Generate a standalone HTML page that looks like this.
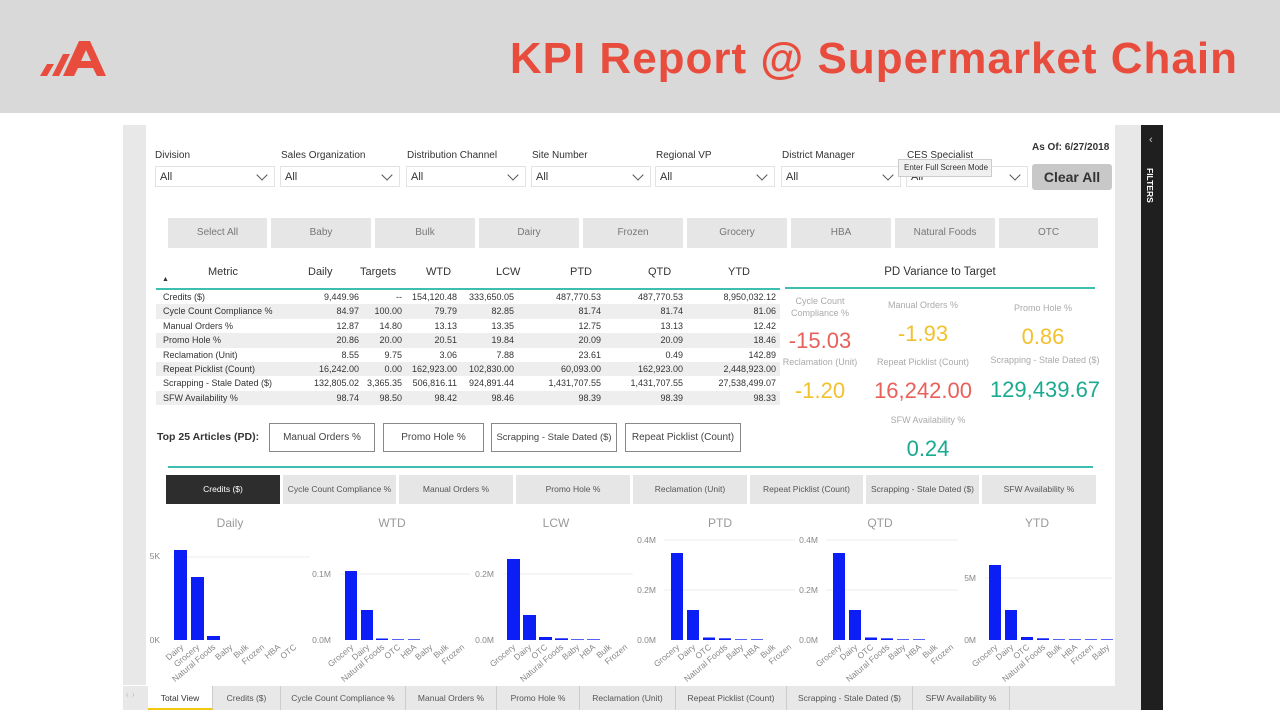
<!DOCTYPE html>
<html><head><meta charset="utf-8"><style>
*{margin:0;padding:0;box-sizing:border-box}
body{width:1280px;height:720px;overflow:hidden;background:#fff;font-family:"Liberation Sans",sans-serif;position:relative;color:#333}
.a{position:absolute}
.hdr{left:0;top:0;width:1280px;height:113px;background:#d9d9d9}
.title{right:42px;top:34px;font-size:44px;font-weight:bold;color:#e84c3d;letter-spacing:1px;white-space:nowrap}
.lbl{font-size:10px;color:#333}
.dd{height:21px;border:1px solid #e3e3e3;font-size:11px;padding:4px 0 0 4px;background:#fff}
.dd:after{content:"";position:absolute;right:8px;top:4px;width:7px;height:7px;border-right:1px solid #555;border-bottom:1px solid #555;transform:rotate(45deg)}
.cb{top:218px;height:30px;background:#e6e6e6;font-size:10px;color:#777;text-align:center;line-height:30px}
.mt{top:475px;height:29px;background:#e6e6e6;font-size:8.5px;color:#555;text-align:center;line-height:29px;white-space:nowrap}
.kl{font-size:9px;color:#aaa;text-align:center}
.kv{font-size:22px;text-align:center}
.btn{top:423px;height:29px;border:1px solid #888;font-size:10px;color:#444;text-align:center;line-height:27px;white-space:nowrap;overflow:hidden}
.tab{top:686px;height:24px;font-size:8.5px;color:#555;text-align:center;line-height:24px;border-right:1px solid #ccc}
.r{position:relative;height:14.4px;line-height:14.4px}.r span{position:absolute;text-align:right}.r.g{background:#eeeeee}.r span.m{left:7px;text-align:left}
</style></head><body>
<div class="a hdr"></div>
<svg class="a" style="left:38px;top:40px" width="70" height="38"><polygon points="2,36 9,24 16,24 9,36" fill="#e84c3d"/><polygon points="14,36 25,14 32,14 21,36" fill="#e84c3d"/><polygon points="25,36 41,1 52,1 68,36 59,36 55,28 40,28 36,36" fill="#e84c3d"/><polygon points="43,21 53,21 48,10" fill="#d9d9d9"/></svg>
<div class="a title">KPI Report @ Supermarket Chain</div>

<div class="a" style="left:123px;top:125px;width:23px;height:560px;background:#e8e8e8"></div>
<div class="a" style="left:1115px;top:125px;width:26px;height:585px;background:#e8e8e8"></div>
<div class="a" style="left:1141px;top:125px;width:22px;height:585px;background:#1f1f1f"></div>
<div class="a" style="left:1149px;top:134px;color:#ccc;font-size:11px">‹</div>
<div class="a" style="left:1145px;top:168px;color:#fff;font-size:8.5px;font-weight:bold;writing-mode:vertical-rl">FILTERS</div>

<div class="a lbl" style="left:155px;top:150px">Division</div>
<div class="a lbl" style="left:281px;top:150px">Sales Organization</div>
<div class="a lbl" style="left:407px;top:150px">Distribution Channel</div>
<div class="a lbl" style="left:532px;top:150px">Site Number</div>
<div class="a lbl" style="left:656px;top:150px">Regional VP</div>
<div class="a lbl" style="left:782px;top:150px">District Manager</div>
<div class="a lbl" style="left:907px;top:150px">CES Specialist</div>
<div class="a dd" style="left:155px;top:166px;width:120px">All</div>
<div class="a dd" style="left:280px;top:166px;width:120px">All</div>
<div class="a dd" style="left:406px;top:166px;width:120px">All</div>
<div class="a dd" style="left:531px;top:166px;width:120px">All</div>
<div class="a dd" style="left:655px;top:166px;width:120px">All</div>
<div class="a dd" style="left:781px;top:166px;width:120px">All</div>
<div class="a dd" style="left:906px;top:166px;width:122px">All</div>
<div class="a" style="left:898px;top:159px;width:94px;height:18px;background:#f0f0f0;border:1px solid #ccc;font-size:8px;padding:3px 0 0 5px">Enter Full Screen Mode</div>
<div class="a" style="left:1032px;top:142px;font-size:10px;font-weight:bold">As Of: 6/27/2018</div>
<div class="a" style="left:1032px;top:164px;width:80px;height:26px;background:#c8c8c8;border-radius:3px;font-size:14px;font-weight:bold;text-align:center;line-height:26px">Clear All</div>

<div class="a cb" style="left:168px;width:99px">Select All</div>
<div class="a cb" style="left:271px;width:100px">Baby</div>
<div class="a cb" style="left:375px;width:100px">Bulk</div>
<div class="a cb" style="left:479px;width:100px">Dairy</div>
<div class="a cb" style="left:583px;width:100px">Frozen</div>
<div class="a cb" style="left:687px;width:100px">Grocery</div>
<div class="a cb" style="left:791px;width:100px">HBA</div>
<div class="a cb" style="left:895px;width:100px">Natural Foods</div>
<div class="a cb" style="left:999px;width:99px">OTC</div>

<div class="a" style="left:156px;top:264px;width:624px;font-size:11px">
<div class="a" style="left:52px;top:2px">Metric</div><div class="a" style="left:6px;top:12px;font-size:7px">▲</div>
<div class="a" style="left:152px;top:2px">Daily</div>
<div class="a" style="left:204px;top:2px">Targets</div>
<div class="a" style="left:270px;top:2px">WTD</div>
<div class="a" style="left:340px;top:2px">LCW</div>
<div class="a" style="left:414px;top:2px">PTD</div>
<div class="a" style="left:492px;top:2px">QTD</div>
<div class="a" style="left:572px;top:2px">YTD</div>
</div>
<div class="a" style="left:156px;top:288px;width:624px;height:2px;background:#3cbfae"></div>
<div class="a" style="left:156px;top:290px;width:624px;font-size:9px;color:#333">
<div class="r"><span class="m">Credits ($)</span><span style="right:421px">9,449.96</span><span style="right:378px">--</span><span style="right:323px">154,120.48</span><span style="right:266px">333,650.05</span><span style="right:179px">487,770.53</span><span style="right:97px">487,770.53</span><span style="right:4px">8,950,032.12</span></div>
<div class="r g"><span class="m">Cycle Count Compliance %</span><span style="right:421px">84.97</span><span style="right:378px">100.00</span><span style="right:323px">79.79</span><span style="right:266px">82.85</span><span style="right:179px">81.74</span><span style="right:97px">81.74</span><span style="right:4px">81.06</span></div>
<div class="r"><span class="m">Manual Orders %</span><span style="right:421px">12.87</span><span style="right:378px">14.80</span><span style="right:323px">13.13</span><span style="right:266px">13.35</span><span style="right:179px">12.75</span><span style="right:97px">13.13</span><span style="right:4px">12.42</span></div>
<div class="r g"><span class="m">Promo Hole %</span><span style="right:421px">20.86</span><span style="right:378px">20.00</span><span style="right:323px">20.51</span><span style="right:266px">19.84</span><span style="right:179px">20.09</span><span style="right:97px">20.09</span><span style="right:4px">18.46</span></div>
<div class="r"><span class="m">Reclamation (Unit)</span><span style="right:421px">8.55</span><span style="right:378px">9.75</span><span style="right:323px">3.06</span><span style="right:266px">7.88</span><span style="right:179px">23.61</span><span style="right:97px">0.49</span><span style="right:4px">142.89</span></div>
<div class="r g"><span class="m">Repeat Picklist (Count)</span><span style="right:421px">16,242.00</span><span style="right:378px">0.00</span><span style="right:323px">162,923.00</span><span style="right:266px">102,830.00</span><span style="right:179px">60,093.00</span><span style="right:97px">162,923.00</span><span style="right:4px">2,448,923.00</span></div>
<div class="r"><span class="m">Scrapping - Stale Dated ($)</span><span style="right:421px">132,805.02</span><span style="right:378px">3,365.35</span><span style="right:323px">506,816.11</span><span style="right:266px">924,891.44</span><span style="right:179px">1,431,707.55</span><span style="right:97px">1,431,707.55</span><span style="right:4px">27,538,499.07</span></div>
<div class="r g"><span class="m">SFW Availability %</span><span style="right:421px">98.74</span><span style="right:378px">98.50</span><span style="right:323px">98.42</span><span style="right:266px">98.46</span><span style="right:179px">98.39</span><span style="right:97px">98.39</span><span style="right:4px">98.33</span></div>
</div>

<div class="a" style="left:785px;top:266px;width:310px;text-align:center;font-size:11.5px">PD Variance to Target</div>
<div class="a" style="left:785px;top:287px;width:310px;height:2px;background:#3cbfae"></div>
<div class="a kl" style="left:775px;top:295px;width:90px;line-height:12px">Cycle Count<br>Compliance %</div>
<div class="a kv" style="left:775px;top:328px;width:90px;color:#e8605a">-15.03</div>
<div class="a kl" style="left:878px;top:300px;width:90px">Manual Orders %</div>
<div class="a kv" style="left:878px;top:321px;width:90px;color:#f2c12e">-1.93</div>
<div class="a kl" style="left:998px;top:303px;width:90px">Promo Hole %</div>
<div class="a kv" style="left:998px;top:324px;width:90px;color:#f2c12e">0.86</div>
<div class="a kl" style="left:775px;top:357px;width:90px">Reclamation (Unit)</div>
<div class="a kv" style="left:775px;top:378px;width:90px;color:#f2c12e">-1.20</div>
<div class="a kl" style="left:868px;top:357px;width:110px">Repeat Picklist (Count)</div>
<div class="a kv" style="left:858px;top:378px;width:130px;color:#e8605a">16,242.00</div>
<div class="a kl" style="left:980px;top:355px;width:130px">Scrapping - Stale Dated ($)</div>
<div class="a kv" style="left:975px;top:377px;width:140px;color:#1aaa8f">129,439.67</div>
<div class="a kl" style="left:868px;top:415px;width:120px">SFW Availability %</div>
<div class="a kv" style="left:868px;top:436px;width:120px;color:#1aaa8f">0.24</div>

<div class="a" style="left:157px;top:431px;font-size:10.5px;font-weight:bold">Top 25 Articles (PD):</div>
<div class="a btn" style="left:269px;width:106px">Manual Orders %</div>
<div class="a btn" style="left:383px;width:101px">Promo Hole %</div>
<div class="a btn" style="left:491px;width:126px;font-size:9.5px">Scrapping - Stale Dated ($)</div>
<div class="a btn" style="left:625px;width:116px">Repeat Picklist (Count)</div>
<div class="a" style="left:168px;top:466px;width:925px;height:2px;background:#3cbfae"></div>

<div class="a mt" style="left:166px;width:114px;background:#2d2d2d;color:#fff">Credits ($)</div>
<div class="a mt" style="left:283px;width:113px">Cycle Count Compliance %</div>
<div class="a mt" style="left:399px;width:114px">Manual Orders %</div>
<div class="a mt" style="left:516px;width:114px">Promo Hole %</div>
<div class="a mt" style="left:633px;width:114px">Reclamation (Unit)</div>
<div class="a mt" style="left:750px;width:113px">Repeat Picklist (Count)</div>
<div class="a mt" style="left:866px;width:113px">Scrapping - Stale Dated ($)</div>
<div class="a mt" style="left:982px;width:114px">SFW Availability %</div>

<svg class="a" style="left:0;top:0" width="1280" height="720" font-family="Liberation Sans, sans-serif" font-size="8.5" fill="#888">
<g font-size="12" fill="#999" text-anchor="middle">
<text x="230" y="527">Daily</text><text x="392" y="527">WTD</text><text x="556" y="527">LCW</text><text x="720" y="527">PTD</text><text x="880" y="527">QTD</text><text x="1037" y="527">YTD</text></g>
<g stroke="#eee"><line x1="172" y1="557" x2="310" y2="557"/><line x1="340" y1="574" x2="470" y2="574"/><line x1="503" y1="574" x2="633" y2="574"/><line x1="664" y1="540" x2="795" y2="540"/><line x1="664" y1="590" x2="795" y2="590"/><line x1="826" y1="540" x2="958" y2="540"/><line x1="826" y1="590" x2="958" y2="590"/><line x1="985" y1="578" x2="1112" y2="578"/></g>
<g text-anchor="end"><text x="160" y="559">5K</text><text x="160" y="643">0K</text>
<text x="331" y="577">0.1M</text><text x="331" y="643">0.0M</text>
<text x="494" y="577">0.2M</text><text x="494" y="643">0.0M</text>
<text x="656" y="543">0.4M</text><text x="656" y="593">0.2M</text><text x="656" y="643">0.0M</text>
<text x="818" y="543">0.4M</text><text x="818" y="593">0.2M</text><text x="818" y="643">0.0M</text>
<text x="976" y="581">5M</text><text x="976" y="643">0M</text></g>
<g fill="#0a1ef5">
<rect x="174" y="550" width="13" height="90"/><rect x="191" y="577" width="13" height="63"/><rect x="207" y="636" width="13" height="4"/>
<rect x="345" y="571" width="12" height="69"/><rect x="361" y="610" width="12" height="30"/><rect x="376" y="638.5" width="12" height="1.5"/><rect x="392" y="639.3" width="12" height="0.7"/><rect x="408" y="639.3" width="12" height="0.7"/>
<rect x="507" y="559" width="13" height="81"/><rect x="523" y="615" width="13" height="25"/><rect x="539" y="637" width="13" height="3"/><rect x="555" y="638.3" width="13" height="1.7"/><rect x="571" y="639.3" width="13" height="0.7"/><rect x="587" y="639.3" width="13" height="0.7"/>
<rect x="671" y="553" width="12" height="87"/><rect x="687" y="610" width="12" height="30"/><rect x="703" y="637.5" width="12" height="2.5"/><rect x="719" y="638.3" width="12" height="1.7"/><rect x="735" y="639.3" width="12" height="0.7"/><rect x="751" y="639.3" width="12" height="0.7"/>
<rect x="833" y="553" width="12" height="87"/><rect x="849" y="610" width="12" height="30"/><rect x="865" y="637.5" width="12" height="2.5"/><rect x="881" y="638.3" width="12" height="1.7"/><rect x="897" y="639.3" width="12" height="0.7"/><rect x="913" y="639.3" width="12" height="0.7"/>
<rect x="989" y="565" width="12" height="75"/><rect x="1005" y="610" width="12" height="30"/><rect x="1021" y="637" width="12" height="3"/><rect x="1037" y="638.3" width="12" height="1.7"/><rect x="1053" y="639.3" width="12" height="0.7"/><rect x="1069" y="639.3" width="12" height="0.7"/><rect x="1085" y="639.3" width="12" height="0.7"/><rect x="1101" y="639.3" width="12" height="0.7"/>
</g>
<g text-anchor="end" font-size="8.5">
<text transform="translate(184,648) rotate(-40)">Dairy</text><text transform="translate(200,648) rotate(-40)">Grocery</text><text transform="translate(216,648) rotate(-40)">Natural Foods</text><text transform="translate(233,648) rotate(-40)">Baby</text><text transform="translate(249,648) rotate(-40)">Bulk</text><text transform="translate(265,648) rotate(-40)">Frozen</text><text transform="translate(281,648) rotate(-40)">HBA</text><text transform="translate(297,648) rotate(-40)">OTC</text>
<text transform="translate(354,648) rotate(-40)">Grocery</text><text transform="translate(370,648) rotate(-40)">Dairy</text><text transform="translate(385,648) rotate(-40)">Natural Foods</text><text transform="translate(401,648) rotate(-40)">OTC</text><text transform="translate(417,648) rotate(-40)">HBA</text><text transform="translate(433,648) rotate(-40)">Baby</text><text transform="translate(449,648) rotate(-40)">Bulk</text><text transform="translate(465,648) rotate(-40)">Frozen</text>
<text transform="translate(516,648) rotate(-40)">Grocery</text><text transform="translate(532,648) rotate(-40)">Dairy</text><text transform="translate(548,648) rotate(-40)">OTC</text><text transform="translate(564,648) rotate(-40)">Natural Foods</text><text transform="translate(580,648) rotate(-40)">Baby</text><text transform="translate(596,648) rotate(-40)">HBA</text><text transform="translate(612,648) rotate(-40)">Bulk</text><text transform="translate(628,648) rotate(-40)">Frozen</text>
<text transform="translate(680,648) rotate(-40)">Grocery</text><text transform="translate(696,648) rotate(-40)">Dairy</text><text transform="translate(712,648) rotate(-40)">OTC</text><text transform="translate(728,648) rotate(-40)">Natural Foods</text><text transform="translate(744,648) rotate(-40)">Baby</text><text transform="translate(760,648) rotate(-40)">HBA</text><text transform="translate(776,648) rotate(-40)">Bulk</text><text transform="translate(792,648) rotate(-40)">Frozen</text>
<text transform="translate(842,648) rotate(-40)">Grocery</text><text transform="translate(858,648) rotate(-40)">Dairy</text><text transform="translate(874,648) rotate(-40)">OTC</text><text transform="translate(890,648) rotate(-40)">Natural Foods</text><text transform="translate(906,648) rotate(-40)">Baby</text><text transform="translate(922,648) rotate(-40)">HBA</text><text transform="translate(938,648) rotate(-40)">Bulk</text><text transform="translate(954,648) rotate(-40)">Frozen</text>
<text transform="translate(998,648) rotate(-40)">Grocery</text><text transform="translate(1014,648) rotate(-40)">Dairy</text><text transform="translate(1030,648) rotate(-40)">OTC</text><text transform="translate(1046,648) rotate(-40)">Natural Foods</text><text transform="translate(1062,648) rotate(-40)">Bulk</text><text transform="translate(1078,648) rotate(-40)">HBA</text><text transform="translate(1094,648) rotate(-40)">Frozen</text><text transform="translate(1110,648) rotate(-40)">Baby</text>
</g>
</svg>

<div class="a" style="left:123px;top:686px;width:1018px;height:24px;background:#e8e8e8"></div>
<div class="a" style="left:126px;top:692px;font-size:7px;color:#aaa">‹ &nbsp;›</div>
<div class="a tab" style="left:148px;width:65px;background:#fff;color:#333;border-bottom:2px solid #f2c811">Total View</div>
<div class="a tab" style="left:213px;width:68px">Credits ($)</div>
<div class="a tab" style="left:281px;width:125px">Cycle Count Compliance %</div>
<div class="a tab" style="left:406px;width:91px">Manual Orders %</div>
<div class="a tab" style="left:497px;width:83px">Promo Hole %</div>
<div class="a tab" style="left:580px;width:96px">Reclamation (Unit)</div>
<div class="a tab" style="left:676px;width:111px">Repeat Picklist (Count)</div>
<div class="a tab" style="left:787px;width:126px">Scrapping - Stale Dated ($)</div>
<div class="a tab" style="left:913px;width:97px">SFW Availability %</div>
</body></html>
